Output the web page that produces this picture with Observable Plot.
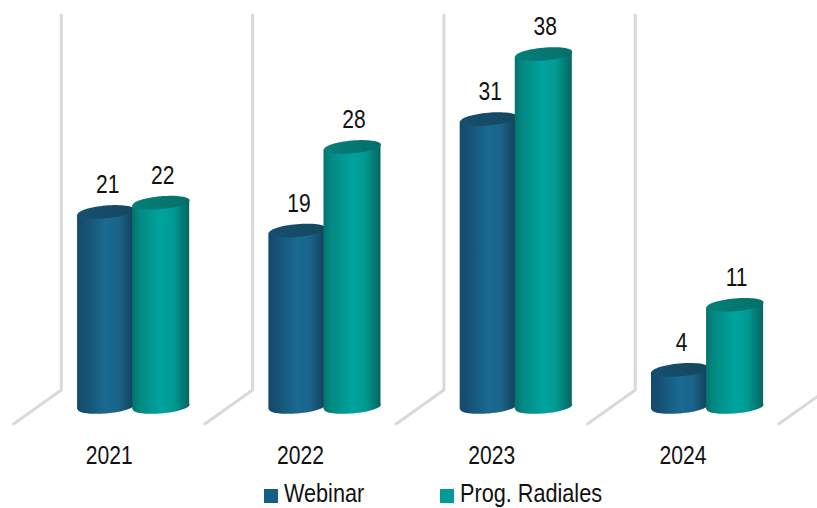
<!DOCTYPE html>
<html><head><meta charset="utf-8">
<script src="https://cdn.jsdelivr.net/npm/d3@7"></script>
<script src="https://cdn.jsdelivr.net/npm/@observablehq/plot@0.6"></script>
<style>
html,body{margin:0;padding:0;background:#fff;overflow:hidden}
#c{width:817px;height:508px;position:relative;font-family:"Liberation Sans",Arial,sans-serif;overflow:hidden}
svg{display:block}
.sw{position:absolute;top:489px;width:14px;height:14px}
.lb{position:absolute;bottom:0;font-size:25px;color:#111;line-height:normal;transform:scaleX(.866);transform-origin:left bottom;white-space:nowrap}
</style></head><body><div id="c"></div>
<script>
const years = ["2021","2022","2023","2024"];
const seriesNames = ["Webinar","Prog. Radiales"];
const webinar = [21,19,31,4];
const radiales = [22,28,38,11];

const barCenter = {"Webinar":0.484,"Prog. Radiales":0.772};
const barHalf = 0.149, tilt = 0.29;
const gradId = {"Webinar":"gW","Prog. Radiales":"gP"};
const capFill = {"Webinar":"url(#cW)","Prog. Radiales":"url(#cP)"};

const rows = seriesNames.flatMap((s,k)=>(k?radiales:webinar).map((v,i)=>({year:years[i],i,series:s,value:v,cx:i+barCenter[s]})));
const body = rows.flatMap(d=>[-1,1].map(side=>({...d,px:d.cx+side*barHalf,top:d.value+side*tilt,base:side*tilt})));

const ellipse = {draw(ctx,size){
  const a=Math.sqrt(size/Math.PI), b=a*0.225, t=-0.088, n=64;
  for(let j=0;j<n;j++){
    const u=j/n*2*Math.PI, x=a*Math.cos(u), y=b*Math.sin(u);
    const X=x*Math.cos(t)-y*Math.sin(t), Y=x*Math.sin(t)+y*Math.cos(t);
    j?ctx.lineTo(X,Y):ctx.moveTo(X,Y);
  }
  ctx.closePath();
}};

const walls = d3.range(years.length+1).flatMap(i=>[[0,-1.83],[0.25,1.83],[0.25,42.2]].map(([o,v])=>({i,px:i+o,v})));

function defs(){
  const svg=d3.create("svg:defs");
  const grad=(id,stops)=>{
    const g=svg.append("linearGradient").attr("id",id).attr("x1",0).attr("x2",1).attr("y1",0).attr("y2",0);
    stops.forEach(([o,c])=>g.append("stop").attr("offset",o).attr("stop-color",c));
  };
  grad("gW",[[0,"#134a68"],[.12,"#154f70"],[.5,"#1a6a92"],[.72,"#1a648a"],[1,"#123f5a"]]);
  grad("gP",[[0,"#04726e"],[.14,"#038a84"],[.5,"#00a39d"],[.72,"#019a94"],[1,"#04655f"]]);
  grad("cW",[[0,"#164f70"],[1,"#14475f"]]);
  grad("cP",[[0,"#05807a"],[1,"#056f6a"]]);
  return svg.node();
}

const fam="Liberation Sans, Arial, sans-serif";
const textFont={fontFamily:fam,fontSize:26,fill:"#111"};

const chart = Plot.plot({
  width:817,height:470,marginTop:35,marginBottom:63,marginLeft:13,marginRight:0,
  style:{background:"#fff",overflow:"hidden"},
  x:{domain:[0,(817-13)/191.3],range:[13,817]},
  y:{domain:[0,40],range:[406.5,35],axis:null},
  marks:[
    defs,
    Plot.line(walls,{x:"px",y:"v",z:"i",stroke:"#d9d9d9",strokeWidth:3,curve:"linear"}),
    ...seriesNames.flatMap(s=>{
      const f=d=>d.series===s;
      return [
        Plot.dot(rows.filter(f),{x:"cx",y:()=>0,r:28.5,symbol:ellipse,fill:`url(#${gradId[s]})`}),
        Plot.area(body.filter(f),{x1:"px",y1:"base",y2:"top",z:"year",fill:`url(#${gradId[s]})`,curve:"linear"}),
        Plot.dot(rows.filter(f),{x:"cx",y:"value",r:28.5,symbol:ellipse,fill:capFill[s]}),
        Plot.text(rows.filter(f),{x:d=>d.cx+0.008,y:"value",text:d=>String(d.value),dy:-27,...textFont})
      ];
    }),
    Plot.axisX({ticks:years.map((_,i)=>i+0.5),tickFormat:(d,i)=>years[i],tickSize:0,tickPadding:38,fontSize:26,fontFamily:fam,color:"#111",label:null})
  ]
});
const host=document.getElementById("c");
host.append(chart);
chart.querySelectorAll("text").forEach(t=>{
  const w=t.getComputedTextLength();
  t.setAttribute("textLength",(w*0.81).toFixed(1));
  t.setAttribute("lengthAdjust","spacingAndGlyphs");
});
[[264,"Webinar","#155f85"],[440,"Prog. Radiales","#009c97"]].forEach(([left,name,col])=>{
  const sw=document.createElement("div");sw.className="sw";sw.style.left=left+"px";sw.style.background=col;host.append(sw);
  const lb=document.createElement("div");lb.className="lb";lb.style.left=(left+20)+"px";lb.textContent=name;host.append(lb);
});
</script></body></html>
